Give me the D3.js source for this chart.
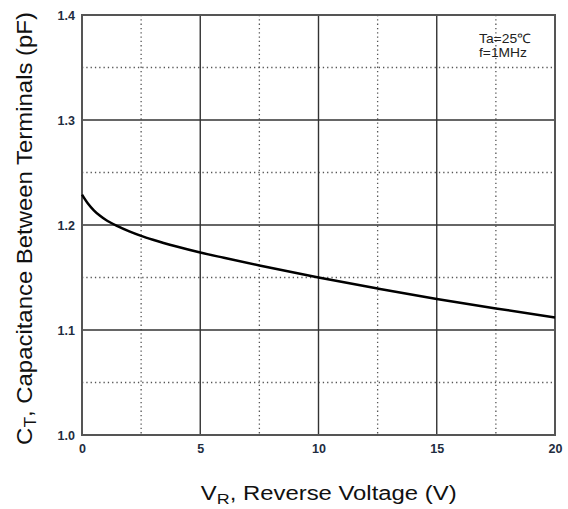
<!DOCTYPE html>
<html><head><meta charset="utf-8">
<script src="https://cdn.jsdelivr.net/npm/d3@7"></script>
<style>body{margin:0;background:#fff}svg{display:block}</style>
</head><body>
<script>
const voltage = [0,0.25,0.5,0.75,1,1.5,2,2.5,3,4,5,6,7.5,10,12.5,15,17.5,20];
const capacitance = [1.229,1.2205,1.214,1.209,1.205,1.199,1.194,1.1897,1.186,1.1795,1.1738,1.1688,1.1615,1.150,1.1395,1.1295,1.1205,1.112];
const xTicks = [0,5,10,15,20];
const xMinor = [2.5,7.5,12.5,17.5];
const yTicks = [1.0,1.1,1.2,1.3,1.4];
const yMinor = [1.05,1.15,1.25,1.35];

const FONT="'Liberation Sans', Arial, Helvetica, sans-serif";
const W=568,H=509;
const L=82,R=555,T=15,B=435;
const svg=d3.select("body").append("svg").attr("width",W).attr("height",H);
const x=d3.scaleLinear().domain([0,20]).range([L,R]);
const y=d3.scaleLinear().domain([1.0,1.4]).range([B,T]);

// minor dotted grid
svg.append("g").selectAll("line").data(xMinor).join("line")
 .attr("x1",d=>x(d)).attr("x2",d=>x(d)).attr("y1",T).attr("y2",B)
 .attr("stroke","#555").attr("stroke-width",1.3).attr("stroke-dasharray","1.3,3");
svg.append("g").selectAll("line").data(yMinor).join("line")
 .attr("y1",d=>y(d)).attr("y2",d=>y(d)).attr("x1",L).attr("x2",R)
 .attr("stroke","#555").attr("stroke-width",1.3).attr("stroke-dasharray","1.3,3");
// major grid
svg.append("g").selectAll("line").data(xTicks.slice(1,-1)).join("line")
 .attr("x1",d=>x(d)).attr("x2",d=>x(d)).attr("y1",T).attr("y2",B)
 .attr("stroke","#333").attr("stroke-width",1.4);
svg.append("g").selectAll("line").data(yTicks.slice(1,-1)).join("line")
 .attr("y1",d=>y(d)).attr("y2",d=>y(d)).attr("x1",L).attr("x2",R)
 .attr("stroke","#333").attr("stroke-width",1.4);
// frame
svg.append("rect").attr("x",L).attr("y",T).attr("width",R-L).attr("height",B-T)
 .attr("fill","none").attr("stroke","#555").attr("stroke-width",2);

// axes labels via d3 axes
const xa=svg.append("g").attr("transform",`translate(0,${B})`)
 .call(d3.axisBottom(x).tickValues(xTicks).tickSize(0).tickPadding(9).tickFormat(d3.format("d")));
const ya=svg.append("g").attr("transform",`translate(${L},0)`)
 .call(d3.axisLeft(y).tickValues(yTicks).tickSize(0).tickPadding(7).tickFormat(d3.format(".1f")));
[xa,ya].forEach(a=>{a.select(".domain").remove();
 a.selectAll("text").attr("font-family",FONT).attr("font-size",12.5).attr("font-weight","bold").attr("fill","#1e2c40");});

// curve
const pts=voltage.map((v,i)=>[v,capacitance[i]]);
svg.append("path").datum(pts)
 .attr("d",d3.line().x(d=>x(d[0])).y(d=>y(d[1])).curve(d3.curveMonotoneX))
 .attr("fill","none").attr("stroke","#000").attr("stroke-width",2.5);

function fit(sel,w){const bw=sel.node().getComputedTextLength();return w/bw;}

// annotation
const a1=svg.append("text").attr("font-family",FONT).attr("font-size",13).attr("fill","#222").text("Ta=25℃");
a1.attr("transform",`translate(479,42.5) scale(${fit(a1,52)},1)`);
const a2=svg.append("text").attr("font-family",FONT).attr("font-size",13).attr("fill","#222").text("f=1MHz");
a2.attr("transform",`translate(479,56.5) scale(${fit(a2,48)},1)`);

// axis titles
const xt=svg.append("text").attr("text-anchor","middle")
 .attr("font-family",FONT).attr("font-size",20).attr("fill","#111");
xt.append("tspan").text("V");
xt.append("tspan").attr("font-size",15).attr("dy",4).text("R");
xt.append("tspan").attr("dy",-4).text(", Reverse Voltage (V)");
xt.attr("transform",`translate(328.7,500) scale(${fit(xt,256)},1)`);

const yt=svg.append("text").attr("text-anchor","middle")
 .attr("font-family",FONT).attr("font-size",22).attr("fill","#111");
yt.append("tspan").text("C");
yt.append("tspan").attr("font-size",16).attr("dy",4).text("T");
yt.append("tspan").attr("dy",-4).text(", Capacitance Between Terminals (pF)");
yt.attr("transform",`translate(32,228.5) rotate(-90) scale(${fit(yt,433)},1)`);
</script>
</body></html>
